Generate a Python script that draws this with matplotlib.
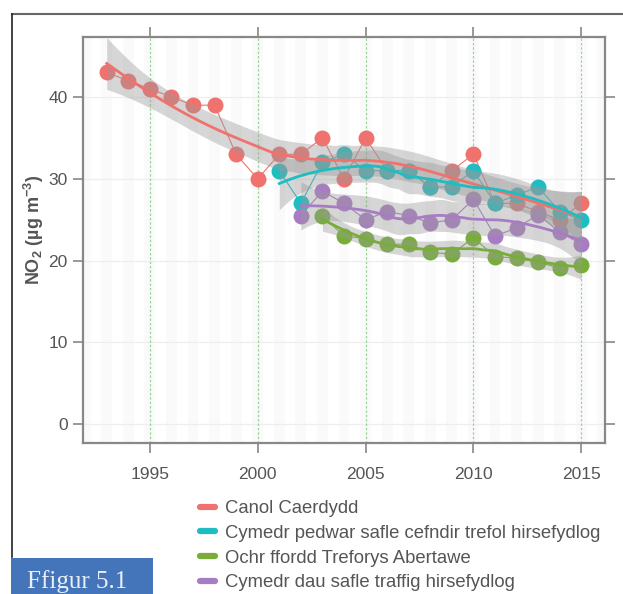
import numpy as np
import matplotlib
matplotlib.use("Agg")
import matplotlib.pyplot as plt
from matplotlib.lines import Line2D
from matplotlib.patches import Rectangle

plt.rcParams['font.family'] = ['Liberation Sans', 'DejaVu Sans']
plt.rcParams['mathtext.default'] = 'regular'

# NO2 annual means (ug m-3)
years_cardiff = list(range(1993, 2016))
cardiff = [43, 42, 41, 40, 39, 39, 33, 30, 33, 33, 35, 30, 35, 31, 31, 29, 31, 33, 27, 27, 26, 25, 27]

years_urban = list(range(2001, 2016))
urban_bg = [31, 27, 32, 33, 31, 31, 31, 29, 29, 31, 27, 28, 29, 26, 25]

years_morriston = list(range(2003, 2016))
morriston = [25.5, 23, 22.7, 22, 22, 21, 20.8, 22.8, 20.5, 20.3, 19.8, 19.1, 19.5]

years_traffic = list(range(2002, 2016))
traffic = [25.5, 28.5, 27, 25, 26, 25.5, 24.6, 25, 27.5, 23, 24, 25.6, 23.5, 22]

labels = ["Canol Caerdydd",
          "Cymedr pedwar safle cefndir trefol hirsefydlog",
          "Ochr ffordd Treforys Abertawe",
          "Cymedr dau safle traffig hirsefydlog"]
colors = ["#F0726E", "#1DBDC2", "#77AD38", "#A87CC3"]


def t_quantile(df, z=1.959964):
    # Cornish-Fisher style expansion for the 97.5% t quantile
    g1 = (z**3 + z) / 4
    g2 = (5 * z**5 + 16 * z**3 + 3 * z) / 96
    g3 = (3 * z**7 + 19 * z**5 + 17 * z**3 - 15 * z) / 384
    g4 = (79 * z**9 + 776 * z**7 + 1482 * z**5 - 1920 * z**3 - 945 * z) / 92160
    return z + g1 / df + g2 / df**2 + g3 / df**3 + g4 / df**4


def loess_weights(x, x0, span=0.75):
    n = len(x)
    q = int(np.floor(n * span))
    d = np.abs(x - x0)
    h = np.sort(d)[q - 1]
    u = np.clip(d / h, 0, 1)
    w = (1 - u**3)**3
    X = np.column_stack([np.ones(n), x - x0, (x - x0)**2])
    XtW = X.T * w
    return np.linalg.solve(XtW @ X, XtW)[0]


def loess_fit(x, y, xs):
    x = np.asarray(x, float)
    y = np.asarray(y, float)
    L = np.array([loess_weights(x, xi) for xi in x])
    R = np.eye(len(x)) - L
    RtR = R.T @ R
    d1 = np.trace(RtR)
    d2 = np.trace(RtR @ RtR)
    s = np.sqrt(np.sum((R @ y)**2) / d1)
    tq = t_quantile(d1**2 / d2)
    fit, se = [], []
    for x0 in xs:
        l = loess_weights(x, x0)
        fit.append(l @ y)
        se.append(s * np.sqrt(np.sum(l**2)))
    fit = np.array(fit)
    se = np.array(se)
    return fit, fit - tq * se, fit + tq * se


fig = plt.figure(figsize=(6.23, 5.94), dpi=100)
ax = fig.add_axes([0.1332, 0.2542, 0.9711 - 0.1332, 0.9372 - 0.2542])

ax.set_xlim(1991.9, 2016.1)
ax.set_ylim(-2.3, 47.3)

# faint stripes and grid
for yr in range(1992, 2017):
    ax.axvspan(yr - 0.25, yr + 0.25, color='#fafafa', lw=0, zorder=0)
for v in [0, 10, 20, 30, 40]:
    ax.axhline(v, color='#eeeeee', lw=0.9, zorder=0.5)
for yr in [1995, 2000, 2005, 2010, 2015]:
    ax.axvline(yr, color='#9ad69a', lw=0.9, ls=(0, (2, 1.5)), zorder=0.6)

series = [(years_cardiff, cardiff), (years_urban, urban_bg),
          (years_morriston, morriston), (years_traffic, traffic)]

for (xv, yv), c in zip(series, colors):
    ax.plot(xv, yv, color=c, lw=0.8, zorder=2)
for (xv, yv), c in zip(series, colors):
    ax.plot(xv, yv, 'o', color=c, ms=11.5, mec='none', zorder=3)
for (xv, yv), c in zip(series, colors):
    xs = np.linspace(xv[0], xv[-1], 80)
    fit, lo, hi = loess_fit(xv, yv, xs)
    ax.fill_between(xs, lo, hi, color='#999999', alpha=0.4, lw=0, zorder=4)
    ax.plot(xs, fit, color=c, lw=2, zorder=5)

ax.set_xticks([1995, 2000, 2005, 2010, 2015])
ax.set_yticks([0, 10, 20, 30, 40])
ax.tick_params(axis='both', which='both', direction='out', length=7, width=1.2,
               color='#888888', labelcolor='#555555', labelsize=12.5,
               top=True, right=True)
ax.tick_params(axis='x', pad=10)
ax.tick_params(axis='y', pad=4)
for sp in ax.spines.values():
    sp.set_color('#888888')
    sp.set_linewidth(1.6)

ax.set_ylabel('NO$_2$ (µg m$^{-3}$)', fontsize=13, fontweight='bold', color='#555555')
ax.yaxis.set_label_coords(-0.071, 0.525)

handles = [Line2D([], [], color=c, lw=4.5, solid_capstyle='round') for c in colors]
fig.legend(handles, labels, loc='upper left', bbox_to_anchor=(0.321, 0.158),
           frameon=False, fontsize=13.3, handlelength=0.8, handletextpad=0.55,
           labelspacing=0.42, borderpad=0, borderaxespad=0, labelcolor='#555555')

# outer frame and figure tab
fig.add_artist(Line2D([11.5 / 623, 1.0], [1 - 13.5 / 594, 1 - 13.5 / 594],
                      color='#666666', lw=1.5, transform=fig.transFigure))
fig.add_artist(Line2D([11.5 / 623, 11.5 / 623], [1 - 557 / 594, 1 - 13.5 / 594],
                      color='#222222', lw=1.2, transform=fig.transFigure))
fig.add_artist(Rectangle((11 / 623, 0), 142 / 623, 36 / 594, color='#4475BB',
                         transform=fig.transFigure, lw=0))
fig.text(27 / 623, 1 / 594, 'Ffigur 5.1', family=['Liberation Serif', 'DejaVu Serif'],
         fontsize=18, color='#e9eef7', va='bottom', ha='left')

fig.savefig('out.png', dpi=100)
